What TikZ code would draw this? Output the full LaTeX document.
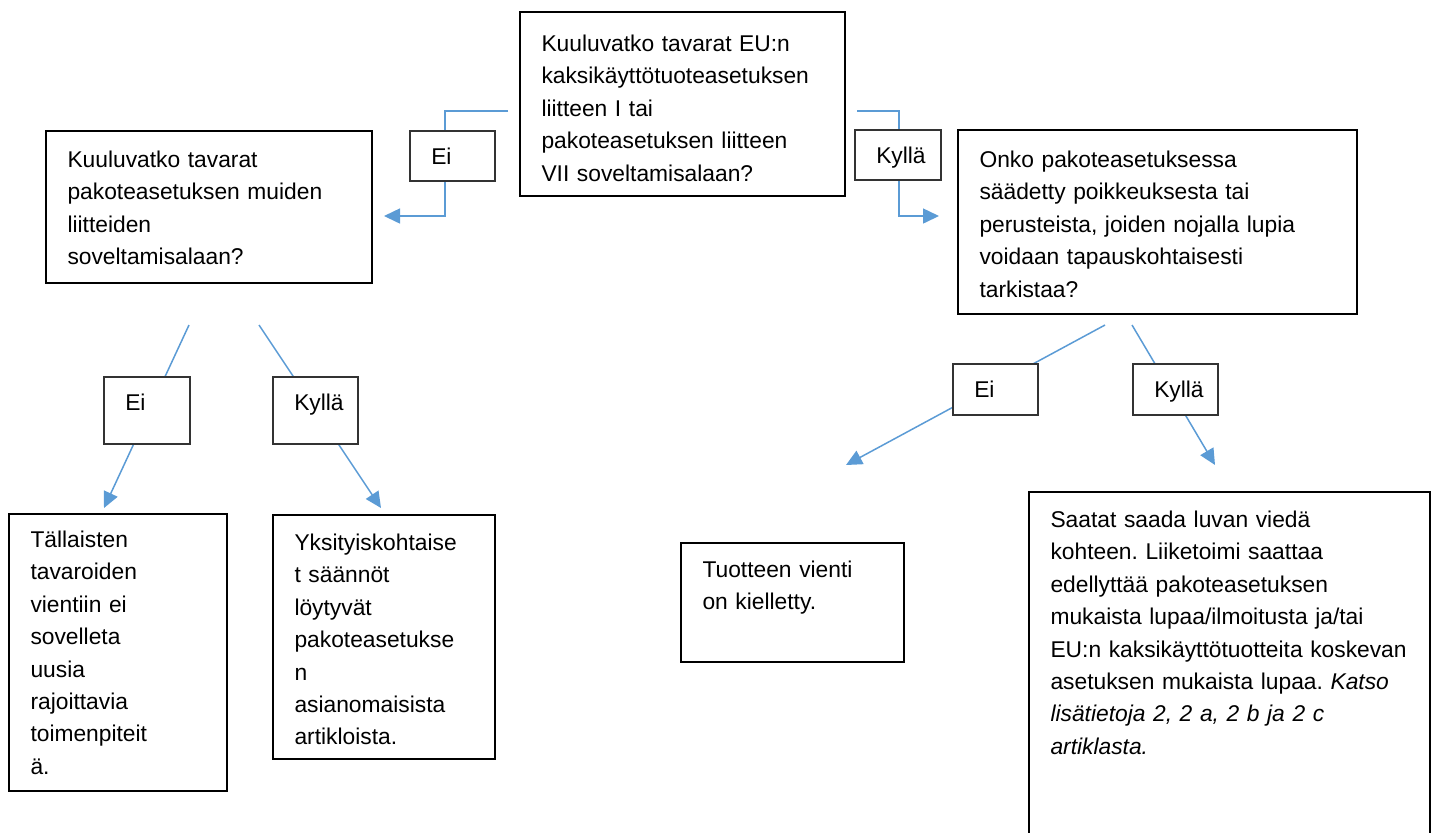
\documentclass[tikz,border=0pt]{standalone}
\usepackage{fontspec}
\setmainfont{Liberation Sans}
\usepackage{tikz}
\usetikzlibrary{arrows.meta}
\definecolor{LinkBlue}{HTML}{5B9BD5}
\frenchspacing
\tikzset{
    box/.style={draw=black, line width=1pt, fill=white, anchor=north west, align=left, inner xsep=10.75pt, inner ysep=0pt, text height=17.7pt, font=\fontsize{11.4}{16.2}\selectfont},
    tag/.style={box, draw=black!80, line width=0.75pt, text height=16.7pt},
    arr/.style={-{Triangle[length=8pt, width=7.5pt]}, line width=0.75pt, draw=LinkBlue}
}

\begin{document}
\begin{tikzpicture}[x=0.5pt, y=-0.5pt]
    \useasboundingbox (0,0) rectangle (1434,832);
    \clip (0,0) rectangle (1434,832);

    \node[box, text width=141pt, text height=19.7pt, text depth=72.3pt] (q1) at (519,11) {Kuuluvatko tavarat EU:n\\kaksikäyttötuoteasetuksen\\liitteen I tai\\pakoteasetuksen liitteen\\VII soveltamisalaan?};

    \node[box, text width=141.5pt, text height=18.2pt, text depth=57.8pt] (l1) at (45,130) {Kuuluvatko tavarat\\pakoteasetuksen muiden\\liitteiden\\soveltamisalaan?};

    \node[box, text width=178pt, text height=18.7pt, text depth=73.3pt] (r1) at (957,129) {Onko pakoteasetuksessa\\säädetty poikkeuksesta tai\\perusteista, joiden nojalla lupia\\voidaan tapauskohtaisesti\\tarkistaa?};

    \node[box, text width=87.5pt, text height=16.7pt, text depth=121.8pt] (b1) at (8,513) {Tällaisten\\tavaroiden\\vientiin ei\\sovelleta\\uusia\\rajoittavia\\toimenpiteit\\ä.};

    \node[box, text width=89.5pt, text depth=104.3pt] (b2) at (272,514) {Yksityiskohtaise\\t säännöt\\löytyvät\\pakoteasetukse\\n\\asianomaisista\\artikloista.};

    \node[box, text width=90pt, text height=17.2pt, text depth=42.3pt] (t1) at (680,542) {Tuotteen vienti\\on kielletty.};

    \node[box, text width=179pt, text depth=162.3pt] (s1) at (1028,491) {Saatat saada luvan viedä\\kohteen. Liiketoimi saattaa\\edellyttää pakoteasetuksen\\mukaista lupaa/ilmoitusta ja/tai\\EU:n kaksikäyttötuotteita koskevan\\asetuksen mukaista lupaa. \textit{Katso}\\\textit{lisätietoja 2, 2 a, 2 b ja 2 c}\\\textit{artiklasta.}};

    % connectors, the answer tags sit on top of them
    \draw[arr] ([xshift=-5.5pt, yshift=-3.5pt]q1.west) -- ++(-63,0) |- ([xshift=5.5pt, yshift=-4.5pt]l1.east);
    \draw[arr] ([xshift=5.5pt, yshift=-3.5pt]q1.east) -- ++(42,0) |- ([xshift=-9pt, yshift=3pt]r1.west);
    \draw[arr] ([xshift=72pt, yshift=-20.5pt]l1.south west) -- ([xshift=48pt, yshift=2.5pt]b1.north west);
    \draw[arr] ([xshift=107pt, yshift=-20.5pt]l1.south west) -- ([xshift=54.5pt, yshift=3pt]b2.north west);
    \draw[arr] ([xshift=74pt, yshift=-5pt]r1.south west) -- ([xshift=83pt, yshift=38.5pt]t1.north west);
    \draw[arr] ([xshift=87.5pt, yshift=-5pt]r1.south west) -- ([xshift=93.5pt, yshift=13pt]s1.north west);

    \node[tag, text width=21pt, text depth=8.3pt] (ei1) at (409,130) {Ei};
    \node[tag, text width=21.5pt, text depth=8.3pt] (ky1) at (854,129) {Kyllä};
    \node[tag, text width=21.5pt, text depth=16.8pt] (ei2) at (103,376) {Ei};
    \node[tag, text width=21pt, text depth=16.8pt] (ky2) at (272,376) {Kyllä};
    \node[tag, text width=21pt, text depth=8.8pt] (ei3) at (952,363) {Ei};
    \node[tag, text width=21pt, text depth=8.8pt] (ky3) at (1132,363) {Kyllä};
\end{tikzpicture}
\end{document}
